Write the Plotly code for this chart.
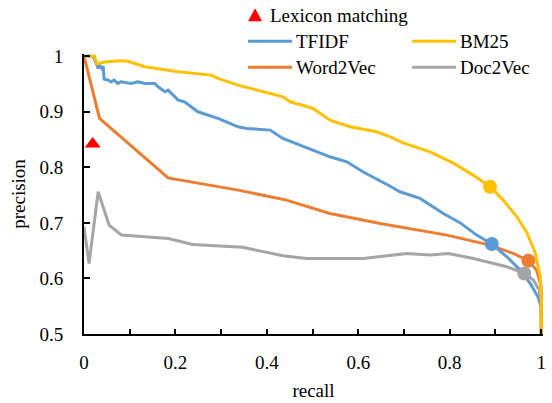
import plotly.graph_objects as go

# ---- data ----
bm25_recall = [0, 0.023, 0.028, 0.048, 0.081, 0.096, 0.133, 0.162, 0.206, 0.278, 0.293, 0.337,
               0.392, 0.435, 0.451, 0.501, 0.538, 0.582, 0.640, 0.670, 0.698, 0.757, 0.807,
               0.851, 0.888, 0.917, 0.947, 0.969, 0.987, 0.998, 1.0, 1.0]
bm25_precision = [1.0, 1.0, 0.986, 0.990, 0.992, 0.991, 0.981, 0.977, 0.972, 0.966, 0.960, 0.948,
                  0.936, 0.927, 0.918, 0.906, 0.885, 0.873, 0.864, 0.855, 0.844, 0.828, 0.808,
                  0.786, 0.765, 0.741, 0.711, 0.682, 0.646, 0.603, 0.561, 0.500]

tfidf_recall = [0, 0.020, 0.031, 0.034, 0.039, 0.042, 0.044, 0.053, 0.059, 0.066, 0.074, 0.081,
                0.103, 0.118, 0.133, 0.155, 0.162, 0.177, 0.184, 0.206, 0.220, 0.249, 0.293,
                0.337, 0.356, 0.407, 0.435, 0.501, 0.538, 0.575, 0.610, 0.670, 0.691, 0.735,
                0.786, 0.823, 0.859, 0.892, 0.925, 0.954, 0.976, 0.993, 1.0, 1.0]
tfidf_precision = [1.0, 1.0, 0.978, 0.984, 0.978, 0.982, 0.959, 0.957, 0.954, 0.957, 0.951, 0.954,
                   0.951, 0.954, 0.951, 0.951, 0.945, 0.936, 0.939, 0.921, 0.918, 0.900, 0.888,
                   0.873, 0.870, 0.867, 0.852, 0.831, 0.819, 0.810, 0.792, 0.766, 0.756, 0.744,
                   0.717, 0.700, 0.678, 0.662, 0.639, 0.615, 0.591, 0.567, 0.549, 0.530]

w2v_recall = [0, 0.034, 0.184, 0.337, 0.443, 0.538, 0.648, 0.794, 0.888, 0.939, 0.972, 0.990, 1.0, 1.0]
w2v_precision = [1.0, 0.888, 0.781, 0.759, 0.741, 0.717, 0.699, 0.678, 0.660, 0.645, 0.632, 0.615,
                 0.585, 0.500]

d2v_recall = [0, 0.011, 0.031, 0.055, 0.082, 0.184, 0.238, 0.347, 0.435, 0.487, 0.611, 0.670,
              0.706, 0.757, 0.797, 0.852, 0.896, 0.925, 0.963, 0.983, 0.996, 1.0, 1.0]
d2v_precision = [0.693, 0.627, 0.756, 0.696, 0.678, 0.672, 0.661, 0.656, 0.641, 0.636, 0.636,
                 0.642, 0.645, 0.642, 0.645, 0.636, 0.627, 0.621, 0.609, 0.597, 0.579, 0.549, 0.500]

# highlighted operating points
point_names = ["TFIDF", "BM25", "Word2Vec", "Doc2Vec"]
point_recall = [0.892, 0.888, 0.972, 0.963]
point_precision = [0.662, 0.765, 0.632, 0.609]

lexicon_recall = [0.019]
lexicon_precision = [0.842]

x_ticks = [0, 0.2, 0.4, 0.6, 0.8, 1]
y_ticks = [0.5, 0.6, 0.7, 0.8, 0.9, 1]

colors = {"TFIDF": "#5B9BD5", "BM25": "#FFC000", "Word2Vec": "#ED7D31", "Doc2Vec": "#A5A5A5"}
FONT = "Liberation Serif, Times New Roman, serif"

fig = go.Figure()
series = [("Doc2Vec", d2v_recall, d2v_precision),
          ("Word2Vec", w2v_recall, w2v_precision),
          ("TFIDF", tfidf_recall, tfidf_precision),
          ("BM25", bm25_recall, bm25_precision)]
for name, xr, yp in series:
    fig.add_trace(go.Scatter(x=xr, y=yp, mode="lines", name=name,
                             line=dict(color=colors[name], width=3), showlegend=False))

for name, xr, yp in zip(point_names, point_recall, point_precision):
    fig.add_trace(go.Scatter(x=[xr], y=[yp], mode="markers", showlegend=False,
                             marker=dict(color=colors[name], size=14, symbol="circle"),
                             cliponaxis=False))

fig.add_trace(go.Scatter(x=lexicon_recall, y=lexicon_precision, mode="markers",
                         name="Lexicon matching", showlegend=False,
                         marker=dict(color="#FF0000", size=14, symbol="triangle-up"),
                         cliponaxis=False))

# ---- layout geometry (reference pixel positions) ----
W, H = 552, 403
L, R, T, B = 84, 541, 56, 334
XMAX, YMIN, YMAX = 1.004, 0.5, 1.004
pw = (R - L) * XMAX
ph = (B - T) * (YMAX - YMIN) / 0.5
ml, mb = L, H - B
mr = W - ml - pw
mt = H - mb - ph


def px(xp):
    return (xp - ml) / pw


def py(yp):
    return (H - mb - yp) / ph


# manual legend, laid out like the reference
shapes = []
annotations = []
leg_rows = [("TFIDF", 248, 41), ("Word2Vec", 248, 67), ("BM25", 412, 41), ("Doc2Vec", 412, 67)]
for name, x0, yrow in leg_rows:
    shapes.append(dict(type="line", xref="paper", yref="paper",
                       x0=px(x0), x1=px(x0 + 44), y0=py(yrow), y1=py(yrow),
                       line=dict(color=colors[name], width=3)))
    annotations.append(dict(text=name, xref="paper", yref="paper", x=px(x0 + 46), y=py(yrow),
                            xanchor="left", yanchor="middle", showarrow=False,
                            font=dict(family=FONT, size=19, color="black")))
# triangle for the lexicon entry
tx, ty = 255, 15
shapes.append(dict(type="path", xref="paper", yref="paper",
                   path=f"M {px(tx-7)} {py(ty+6)} L {px(tx+7)} {py(ty+6)} L {px(tx)} {py(ty-7)} Z",
                   fillcolor="#FF0000", line=dict(width=0)))
annotations.append(dict(text="Lexicon matching", xref="paper", yref="paper", x=px(268), y=py(ty),
                        xanchor="left", yanchor="middle", showarrow=False,
                        font=dict(family=FONT, size=19, color="black")))

fig.update_layout(
    width=W, height=H,
    margin=dict(l=ml, r=mr, t=mt, b=mb, pad=0, autoexpand=False),
    paper_bgcolor="white", plot_bgcolor="white",
    font=dict(family=FONT, size=19, color="black"),
    showlegend=False,
    shapes=shapes, annotations=annotations,
    xaxis=dict(range=[0, XMAX], tickvals=x_ticks, ticktext=[f"{v:g}" for v in x_ticks],
               ticks="inside", ticklen=5, tickwidth=1.5, tickcolor="black",
               minor=dict(dtick=0.1, tick0=0, ticks="inside", ticklen=5, tickwidth=1.5,
                          tickcolor="black"),
               showline=True, linecolor="black", linewidth=2, showgrid=False, zeroline=False,
               ticklabelstandoff=10, automargin=False,
               title=dict(text="recall", standoff=12, font=dict(family=FONT, size=19))),
    yaxis=dict(range=[YMIN, YMAX], tickvals=y_ticks, ticktext=[f"{v:g}" for v in y_ticks],
               ticks="inside", ticklen=6, tickwidth=1.5, tickcolor="black",
               showline=True, linecolor="black", linewidth=2, showgrid=False, zeroline=False,
               ticklabelstandoff=15, automargin=False,
               title=dict(text="precision", standoff=9, font=dict(family=FONT, size=19))),
)

# remove the browser's default 8px page margin so the figure fills the window exactly
fig.write_html("out.html", config={"displayModeBar": False},
               post_script="document.body.style.margin='0px';")
